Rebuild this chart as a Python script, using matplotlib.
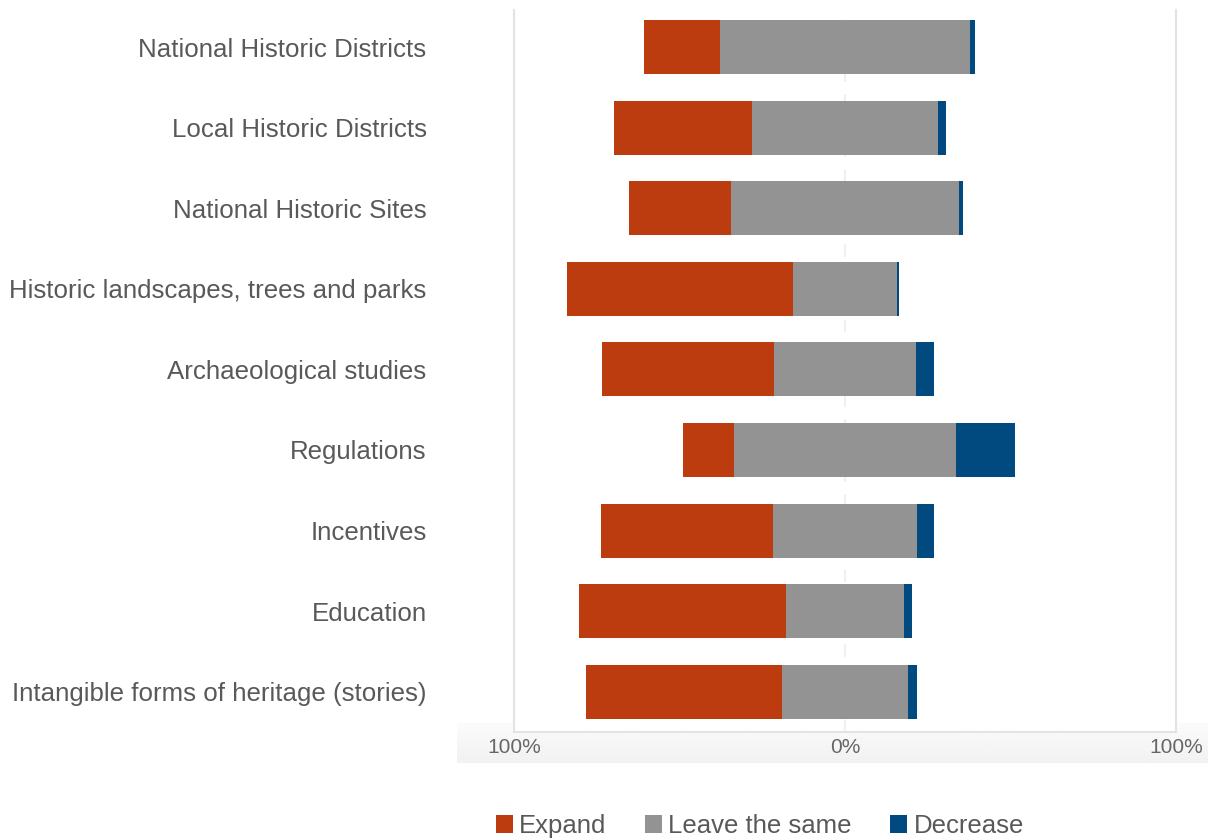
import numpy as np
import matplotlib
matplotlib.use("Agg")
import matplotlib.pyplot as plt
from matplotlib.patches import Patch

# survey answers, percent of respondents
categories = [
    "National Historic Districts",
    "Local Historic Districts",
    "National Historic Sites",
    "Historic landscapes, trees and parks",
    "Archaeological studies",
    "Regulations",
    "Incentives",
    "Education",
    "Intangible forms of heritage (stories)",
]
expand = [23.2, 41.7, 30.9, 68.3, 51.9, 15.4, 51.9, 62.5, 59.2]
leave_same = [75.3, 55.9, 68.8, 31.4, 43.0, 67.0, 43.7, 35.6, 38.3]
decrease = [1.5, 2.7, 1.2, 0.6, 5.4, 17.8, 5.1, 2.4, 2.7]
series_names = ["Expand", "Leave the same", "Decrease"]
x_ticks = [-100, 0, 100]
x_ticklabels = ["100%", "0%", "100%"]

c_expand = "#bc3c10"
c_same = "#939393"
c_decrease = "#004a7f"
text_color = "#595959"

plt.rcParams['font.family'] = ['Liberation Sans', 'DejaVu Sans']

fig = plt.figure(figsize=(12.08, 8.4), dpi=100)

# light grey band behind the x tick labels
band = fig.add_axes([457 / 1208, 1 - 763 / 840, (1208 - 457) / 1208, 40 / 840], zorder=0)
grad = np.linspace(0.985, 0.945, 50).reshape(-1, 1)
band.imshow(np.repeat(grad, 2, axis=1), cmap="gray", vmin=0, vmax=1,
            aspect="auto", extent=[0, 1, 0, 1])
band.set_axis_off()

ax = fig.add_axes([514 / 1208, 1 - 732 / 840, (1176 - 514) / 1208, (732 - 10) / 840], zorder=1)
ax.set_facecolor("white")

y = np.arange(len(categories))
expand = np.array(expand)
leave_same = np.array(leave_same)
decrease = np.array(decrease)

# neutral answers centred on zero
left_same = -leave_same / 2
left_expand = left_same - expand
left_dec = leave_same / 2

h = 0.67
ax.barh(y, expand, left=left_expand, height=h, color=c_expand, zorder=3)
ax.barh(y, leave_same, left=left_same, height=h, color=c_same, zorder=3)
ax.barh(y, decrease, left=left_dec, height=h, color=c_decrease, zorder=3)

ax.set_xlim(-100, 100)
ax.set_ylim(8.5, -0.46)
ax.axvline(0, color="#f0f0f0", lw=1.5, ls=(0, (6, 6)), zorder=1)

ax.set_yticks(y)
ax.set_yticklabels(categories, fontsize=18.6, color=text_color)
ax.set_xticks(x_ticks)
ax.set_xticklabels(x_ticklabels, fontsize=15, color="#666666")
ax.tick_params(axis="y", length=0, pad=63)
ax.tick_params(axis="x", length=0, pad=4)

for side in ["left", "right", "bottom"]:
    ax.spines[side].set_color("#e3e3e3")
    ax.spines[side].set_linewidth(1.5)
ax.spines["top"].set_visible(False)

handles = [Patch(facecolor=c, edgecolor="none") for c in (c_expand, c_same, c_decrease)]
fig.legend(handles, series_names, loc="center", bbox_to_anchor=(760 / 1208, 1 - 826 / 840),
           ncol=3, frameon=False, fontsize=18.5, labelcolor=text_color,
           handlelength=0.66, handleheight=0.66, handletextpad=0.25, columnspacing=1.5,
           borderaxespad=0, borderpad=0)

fig.savefig("out.png", dpi=100, facecolor="white")
